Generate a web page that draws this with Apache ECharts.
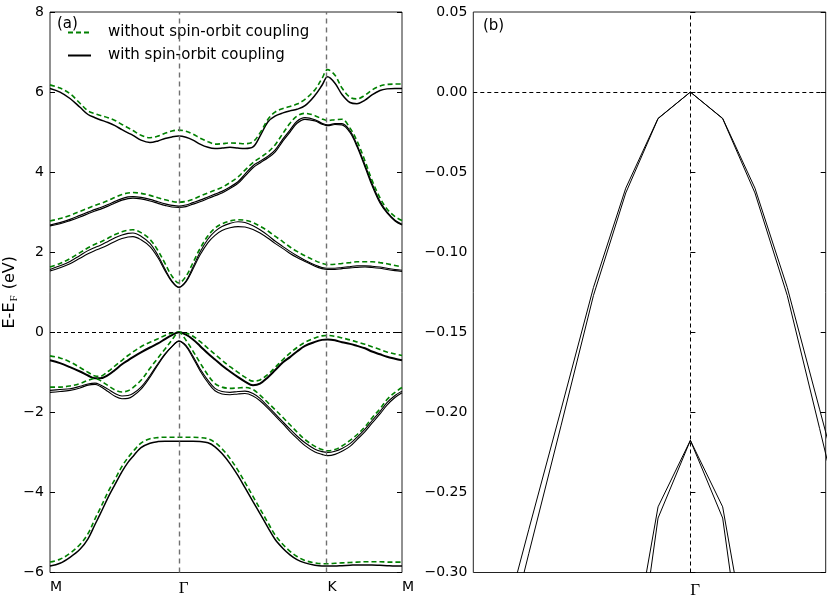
<!DOCTYPE html>
<html>
<head>
<meta charset="utf-8">
<script src="https://cdn.jsdelivr.net/npm/echarts@6/dist/echarts.min.js"></script>
<style>
html,body{margin:0;padding:0;background:#fff;}
#chart{width:830px;height:605px;}
</style>
</head>
<body>
<div id="chart"></div>
<script>
// ---- panel (a): k-path M - Gamma - K - M (path length) ----
const kPath = [0.0000,0.0448,0.0896,0.1344,0.1703,0.2017,0.2241,0.2599,0.2913,0.3226,
  0.3495,0.3719,0.4078,0.4481,0.4840,0.5153,0.5467,0.5774,0.6094,0.6408,
  0.6722,0.7080,0.7394,0.7708,0.8066,0.8425,0.8738,0.9097,0.9411,0.9769,
  1.0083,1.0441,1.0755,1.1069,1.1427,1.1875,1.2189,1.2440,1.2771,1.3085,
  1.3444,1.3757,1.4116,1.4429,1.4788,1.5102,1.5460,1.5774];
const kTickValues = [0, 0.5774, 1.2440, 1.5774];
const kTickLabels = ['M', 'Γ', 'K', 'M'];
const eTicksA = [-6, -4, -2, 0, 2, 4, 6, 8];

// with spin-orbit coupling (black)
const socT1 = [6.09,6.00,5.84,5.62,5.44,5.36,5.31,5.24,5.16,5.06, 4.98,4.92,4.80,4.74,4.78,4.84,4.88,4.90,4.87,4.80, 4.70,4.62,4.59,4.60,4.62,4.60,4.59,4.63,4.90,5.26, 5.40,5.48,5.53,5.57,5.66,5.92,6.17,6.38,6.22,5.94, 5.74,5.71,5.80,5.93,6.04,6.08,6.09,6.09];
const socT2a = [2.68,2.74,2.82,2.92,3.00,3.07,3.11,3.19,3.27,3.34, 3.38,3.39,3.37,3.32,3.26,3.21,3.17,3.15,3.18,3.24, 3.30,3.38,3.45,3.52,3.63,3.76,3.95,4.16,4.27,4.40, 4.55,4.83,5.05,5.27,5.36,5.31,5.22,5.18,5.21,5.21, 5.03,4.68,4.18,3.72,3.27,3.01,2.80,2.70];
const socT2b = [2.66,2.71,2.79,2.88,2.96,3.03,3.07,3.15,3.23,3.30, 3.34,3.35,3.33,3.28,3.22,3.17,3.13,3.12,3.14,3.20, 3.26,3.34,3.41,3.48,3.59,3.72,3.90,4.11,4.23,4.36, 4.50,4.78,5.00,5.22,5.32,5.28,5.20,5.16,5.19,5.18, 4.99,4.64,4.13,3.67,3.23,2.98,2.78,2.68];
const socC1 = [1.57,1.66,1.77,1.92,2.04,2.12,2.17,2.27,2.36,2.43, 2.47,2.48,2.40,2.22,1.92,1.58,1.28,1.13,1.28,1.63, 2.00,2.33,2.52,2.64,2.72,2.76,2.74,2.66,2.56,2.42, 2.28,2.14,2.02,1.91,1.80,1.68,1.62,1.60,1.60,1.62, 1.64,1.66,1.66,1.65,1.63,1.60,1.57,1.55];
const socC2 = [1.53,1.61,1.71,1.85,1.96,2.04,2.09,2.18,2.27,2.34, 2.38,2.39,2.31,2.14,1.86,1.54,1.26,1.12,1.26,1.58, 1.93,2.24,2.42,2.54,2.61,2.64,2.63,2.57,2.48,2.35, 2.22,2.09,1.97,1.87,1.77,1.65,1.59,1.57,1.57,1.59, 1.61,1.62,1.63,1.62,1.60,1.57,1.54,1.52];
const socV1 = [-0.70,-0.77,-0.87,-0.98,-1.08,-1.15,-1.15,-1.07,-0.94,-0.80, -0.70,-0.62,-0.50,-0.38,-0.28,-0.17,-0.07,0.00,-0.06,-0.18, -0.34,-0.53,-0.68,-0.83,-0.98,-1.12,-1.23,-1.32,-1.28,-1.12, -0.95,-0.75,-0.62,-0.48,-0.34,-0.24,-0.19,-0.18,-0.20,-0.25, -0.29,-0.34,-0.40,-0.48,-0.55,-0.61,-0.66,-0.70];
const socV2a = [-1.45,-1.43,-1.41,-1.35,-1.29,-1.27,-1.31,-1.42,-1.53,-1.59, -1.58,-1.53,-1.37,-1.08,-0.78,-0.54,-0.35,-0.22,-0.33,-0.60, -0.91,-1.20,-1.40,-1.48,-1.50,-1.48,-1.47,-1.53,-1.65,-1.85, -2.03,-2.24,-2.42,-2.59,-2.76,-2.92,-2.98,-3.00,-2.97,-2.90, -2.78,-2.62,-2.42,-2.21,-1.98,-1.76,-1.58,-1.47];
const socV2b = [-1.50,-1.48,-1.45,-1.39,-1.32,-1.30,-1.35,-1.48,-1.60,-1.66, -1.65,-1.59,-1.42,-1.12,-0.81,-0.56,-0.36,-0.22,-0.35,-0.64, -0.96,-1.26,-1.46,-1.54,-1.56,-1.54,-1.53,-1.59,-1.71,-1.90, -2.08,-2.29,-2.48,-2.65,-2.83,-2.99,-3.05,-3.08,-3.05,-2.97, -2.85,-2.68,-2.48,-2.27,-2.04,-1.82,-1.63,-1.51];
const socV3 = [-5.84,-5.77,-5.62,-5.42,-5.16,-4.80,-4.55,-4.13,-3.80,-3.48, -3.25,-3.10,-2.88,-2.77,-2.73,-2.72,-2.72,-2.72,-2.72,-2.72, -2.73,-2.76,-2.86,-3.03,-3.28,-3.58,-3.88,-4.23,-4.53,-4.88, -5.17,-5.40,-5.56,-5.68,-5.76,-5.82,-5.84,-5.84,-5.84,-5.83, -5.82,-5.81,-5.81,-5.81,-5.82,-5.83,-5.84,-5.84];

// without spin-orbit coupling (green dashed)
const noT1 = [6.18,6.10,5.96,5.72,5.53,5.46,5.42,5.36,5.29,5.19, 5.11,5.04,4.92,4.86,4.90,4.97,5.03,5.05,5.02,4.95, 4.85,4.76,4.70,4.71,4.73,4.72,4.71,4.76,4.98,5.32, 5.50,5.59,5.64,5.70,5.82,6.06,6.34,6.56,6.42,6.10, 5.87,5.83,5.92,6.05,6.15,6.19,6.20,6.20];
const noT2 = [2.78,2.84,2.92,3.02,3.10,3.17,3.21,3.29,3.37,3.44, 3.48,3.49,3.47,3.42,3.36,3.31,3.27,3.25,3.27,3.32, 3.40,3.48,3.55,3.62,3.74,3.88,4.05,4.24,4.36,4.50, 4.68,4.97,5.22,5.40,5.47,5.41,5.33,5.29,5.31,5.32, 5.10,4.78,4.28,3.80,3.36,3.08,2.89,2.79];
const noC = [1.63,1.72,1.84,1.99,2.11,2.20,2.25,2.35,2.44,2.51, 2.55,2.56,2.49,2.32,2.04,1.72,1.40,1.23,1.40,1.74, 2.09,2.41,2.60,2.71,2.78,2.81,2.80,2.74,2.65,2.53, 2.40,2.26,2.13,2.02,1.91,1.79,1.72,1.69,1.70,1.72, 1.74,1.76,1.76,1.76,1.74,1.71,1.67,1.63];
const noV1 = [-0.59,-0.64,-0.74,-0.88,-1.00,-1.09,-1.10,-0.98,-0.84,-0.70, -0.58,-0.49,-0.36,-0.25,-0.16,-0.08,-0.02,0.00,-0.02,-0.10, -0.23,-0.40,-0.55,-0.70,-0.86,-1.00,-1.12,-1.22,-1.19,-1.05, -0.88,-0.68,-0.52,-0.38,-0.25,-0.14,-0.09,-0.08,-0.10,-0.14, -0.19,-0.24,-0.30,-0.36,-0.43,-0.49,-0.54,-0.58];
const noV2 = [-1.37,-1.37,-1.34,-1.28,-1.20,-1.15,-1.20,-1.33,-1.44,-1.49, -1.46,-1.38,-1.20,-0.90,-0.64,-0.42,-0.19,0.00,-0.20,-0.47, -0.76,-1.07,-1.28,-1.37,-1.40,-1.39,-1.38,-1.43,-1.57,-1.76, -1.93,-2.13,-2.31,-2.49,-2.68,-2.85,-2.93,-2.96,-2.93,-2.84, -2.70,-2.56,-2.36,-2.14,-1.91,-1.68,-1.50,-1.38];
const noV3 = [-5.74,-5.67,-5.52,-5.30,-5.03,-4.66,-4.41,-3.99,-3.67,-3.35, -3.13,-2.98,-2.77,-2.66,-2.63,-2.62,-2.62,-2.62,-2.62,-2.62, -2.63,-2.66,-2.75,-2.91,-3.15,-3.45,-3.75,-4.10,-4.41,-4.76, -5.06,-5.30,-5.47,-5.60,-5.70,-5.76,-5.78,-5.78,-5.77,-5.76, -5.75,-5.74,-5.73,-5.73,-5.73,-5.74,-5.74,-5.74];

// ---- panel (b): zoom around Gamma (k-point index from Gamma) ----
const kZoom = [-7,-6,-5,-4,-3,-2,-1,0,1,2,3,4,5];
const zU1 = [-0.424,-0.349,-0.273,-0.198,-0.122,-0.060,-0.0164,0,-0.0164,-0.060,-0.122,-0.198,-0.274];
const zU2 = [-0.450,-0.369,-0.288,-0.208,-0.127,-0.063,-0.0166,0,-0.0166,-0.063,-0.127,-0.210,-0.294];
const kZoomL = [-2,-1,0,1,2];
const zL1 = [-0.373,-0.259,-0.2175,-0.259,-0.373];
const zL2 = [-0.411,-0.266,-0.2175,-0.266,-0.411];
const eTicksB = [-0.30,-0.25,-0.20,-0.15,-0.10,-0.05,0.00,0.05];

const NAME_NO = 'without spin-orbit coupling';
const NAME_SOC = 'with spin-orbit coupling';
const GREEN = '#008000';
const FONT = 'DejaVu Sans';

function pairs(xs, ys){ return xs.map((x,i)=>[x, ys[i]]); }
function minus(s){ return String(s).replace('-', '\u2212'); }

const series = [];
function addA(arr, isSoc, width){
  series.push({
    type:'line', name: isSoc ? NAME_SOC : NAME_NO,
    xAxisIndex:0, yAxisIndex:0,
    data: pairs(kPath, arr), smooth:0.35, symbol:'none', silent:true,
    lineStyle: isSoc ? {color:'#000', width: width} : {color:GREEN, width:1.6, type:[5,3]},
    itemStyle:{color: isSoc ? '#000' : GREEN},
    z: isSoc ? 2 : 3
  });
}
addA(socT1, true, 1.5);
addA(socT2a, true, 1.2);
addA(socT2b, true, 1.2);
addA(socC1, true, 1.1);
addA(socC2, true, 1.1);
addA(socV1, true, 2.0);
addA(socV2a, true, 1.1);
addA(socV2b, true, 1.1);
addA(socV3, true, 1.5);
[noT1, noT2, noC, noV1, noV2, noV3].forEach(a=>addA(a, false));

function addB(xs, ys){
  series.push({
    type:'line', name: NAME_SOC, xAxisIndex:1, yAxisIndex:2,
    data: pairs(xs, ys), smooth:false, symbol:'none', silent:true,
    lineStyle:{color:'#000', width:1}, z:2
  });
}
addB(kZoom, zU1); addB(kZoom, zU2); addB(kZoomL, zL1); addB(kZoomL, zL2);

// reference dashed lines
series.push({
  type:'line', xAxisIndex:0, yAxisIndex:0, data:[], silent:true,
  markLine:{symbol:['none','none'], silent:true, label:{show:false},
    data:[
      {xAxis:kTickValues[1], lineStyle:{color:'#707070', type:[5,4], width:1.4}},
      {xAxis:kTickValues[2], lineStyle:{color:'#707070', type:[5,4], width:1.4}},
      {yAxis:0, lineStyle:{color:'#000', type:[4,3], width:1}}
    ]}
});
series.push({
  type:'line', xAxisIndex:1, yAxisIndex:2, data:[], silent:true,
  markLine:{symbol:['none','none'], silent:true, label:{show:false},
    data:[
      {xAxis:0, lineStyle:{color:'#000', type:[4,3], width:1}},
      {yAxis:0, lineStyle:{color:'#000', type:[4,3], width:1}}
    ]}
});

const labelStyle = {color:'#000', fontFamily:FONT, fontSize:14};
const tickStyle = {show:true, inside:true, length:5, lineStyle:{color:'#000', width:1}};

const option = {
  animation:false,
  backgroundColor:'#fff',
  grid:[
    {left:50, top:12, width:352, height:560.5, show:true, borderColor:'#222', borderWidth:1, backgroundColor:'transparent'},
    {left:473.3, top:12, width:352.4, height:560.5, show:true, borderColor:'#222', borderWidth:1, backgroundColor:'transparent'}
  ],
  legend:{
    orient:'vertical', left:62, top:20, itemWidth:23, itemHeight:14, itemGap:8,
    data:[NAME_NO, NAME_SOC],
    itemStyle:{color:'rgba(0,0,0,0)', borderColor:'rgba(0,0,0,0)', borderWidth:0, opacity:0},
    textStyle:{color:'#000', fontFamily:FONT, fontSize:15, padding:[0,0,0,12]},
    selectedMode:false
  },
  xAxis:[
    {type:'value', gridIndex:0, min:0, max:1.5774,
      axisLine:{show:false}, splitLine:{show:false}, axisTick:{show:false},
      axisLabel:{show:true, customValues:kTickValues, align:'left', margin:8,
        formatter:function(v){
          let i = kTickValues.findIndex(t=>Math.abs(t-v)<1e-6);
          if(i<0) return '';
          return kTickLabels[i]==='Γ' ? '{g|Γ}' : kTickLabels[i];
        },
        color:'#000', fontFamily:FONT, fontSize:14,
        rich:{g:{fontFamily:'Liberation Serif', fontSize:17, color:'#000'}}
      }},
    {type:'value', gridIndex:1, min:-6.72, max:4.19,
      axisLine:{show:false}, splitLine:{show:false}, axisTick:{show:false},
      axisLabel:{show:true, customValues:[0], align:'left', margin:10,
        formatter:function(v){ return Math.abs(v)<1e-6 ? '{g|Γ}' : ''; },
        rich:{g:{fontFamily:'Liberation Serif', fontSize:17, color:'#000'}}
      }}
  ],
  yAxis:[
    {type:'value', gridIndex:0, min:-6, max:8, interval:2, position:'left',
      axisLine:{show:false}, splitLine:{show:false}, axisTick:tickStyle,
      axisLabel:Object.assign({margin:6, formatter:v=>minus(v)}, labelStyle),
      name:'E-E{s|F} (eV)', nameLocation:'middle', nameGap:27, nameRotate:90,
      nameTextStyle:{color:'#000', fontFamily:FONT, fontSize:16,
        rich:{s:{fontFamily:'Liberation Serif', fontSize:11, color:'#000', padding:[9,1,0,1]}}}
    },
    {type:'value', gridIndex:0, min:-6, max:8, interval:2, position:'right',
      axisLine:{show:false}, splitLine:{show:false}, axisTick:tickStyle, axisLabel:{show:false}},
    {type:'value', gridIndex:1, min:-0.30, max:0.05, interval:0.05, position:'left',
      axisLine:{show:false}, splitLine:{show:false}, axisTick:tickStyle,
      axisLabel:Object.assign({margin:6, formatter:v=>minus(Number(v).toFixed(2))}, labelStyle)},
    {type:'value', gridIndex:1, min:-0.30, max:0.05, interval:0.05, position:'right',
      axisLine:{show:false}, splitLine:{show:false}, axisTick:tickStyle, axisLabel:{show:false}}
  ],
  graphic:[
    {type:'text', left:57, top:17, style:{text:'(a)', fill:'#000', font:'15px "DejaVu Sans"'}},
    {type:'text', left:483, top:19, style:{text:'(b)', fill:'#000', font:'15px "DejaVu Sans"'}}
  ],
  series: series
};

const chart = echarts.init(document.getElementById('chart'), null, {renderer:'canvas'});
chart.setOption(option);
</script>
</body>
</html>
